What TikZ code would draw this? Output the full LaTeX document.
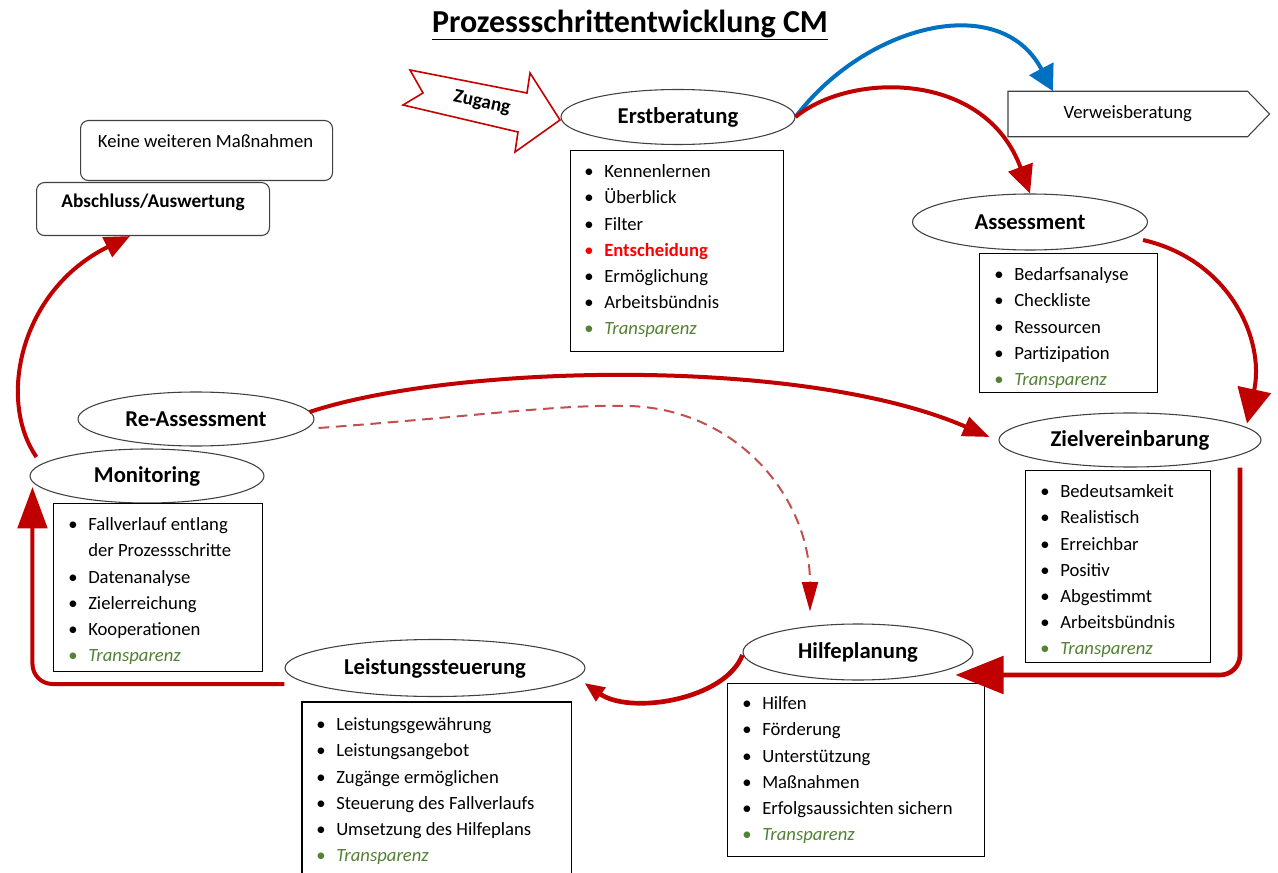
\documentclass[tikz,border=0pt]{standalone}
\usepackage{fontspec}
\setmainfont{Carlito}
\usetikzlibrary{shapes.geometric,arrows.meta,calc}
\definecolor{dred}{HTML}{C00000}
\definecolor{dblue}{HTML}{0070C0}
\definecolor{tgreen}{HTML}{538135}
\definecolor{lred}{HTML}{C0504D}
\definecolor{egray}{HTML}{404040}
\definecolor{brightred}{HTML}{FF0000}
\newcommand\itm[1]{\textbullet & #1\\}
\newcommand\gitm[1]{\textcolor{tgreen}{\textbullet} & \textcolor{tgreen}{\itshape #1}\\}
\newcommand\ritm[1]{\textcolor{brightred}{\textbullet} & \textcolor{brightred}{\bfseries #1}\\}
\newcommand\bodyfont{\fontsize{14}{19.65}\selectfont}
\newcommand\blist[1]{\bodyfont\begin{tabular}{@{}p{15pt}@{}l@{}}#1\end{tabular}}
\begin{document}
\begin{tikzpicture}[x=0.75pt,y=-0.75pt,
  ell/.style={ellipse, draw=egray, line width=0.8pt, fill=white, inner sep=0pt,
    font=\fontsize{17}{20}\selectfont\bfseries},
  sz/.style 2 args={minimum width=#1*0.75pt, minimum height=#2*0.75pt},
  lbox/.style={draw=black, line width=0.8pt, fill=white, inner sep=0pt, anchor=north west},
  rbox/.style={draw=egray, line width=0.8pt, fill=white, inner sep=0pt, anchor=north west, rounded corners=6pt},
  ltext/.style={anchor=north west, inner sep=0pt},
  flow/.style={draw=dred, line width=3pt},
  tip/.style 2 args={-{Triangle[length=#1pt,width=#2pt]}}
]
\useasboundingbox (0,0) rectangle (1278,873);

% title
\node[font=\fontsize{24}{28}\selectfont\bfseries] (title) at (630,25) {\underline{Prozessschrittentwicklung CM}};

% Zugang arrow
\draw[draw=dred!90!red, line width=1.2pt, fill=white, line join=miter]
  (410,70) -- (527,93) -- (530,73) -- (560,120) -- (515,152) -- (518,132) -- (403,105) -- (423,93) -- cycle;
\node[font=\fontsize{14.5}{17}\selectfont\bfseries, rotate=-12] (zg) at (482,103) {Zugang};

% top-left boxes
\node[rbox, sz={252}{60}] (kw) at (80,120) {};
\node[font=\bodyfont] (kwt) at ($(kw.north)+(-1,21)$) {Keine weiteren Maßnahmen};
\node[rbox, sz={233}{53}] (ab) at (36,182) {};
\node[font=\fontsize{14.5}{17}\selectfont\bfseries] (abt) at ($(ab.north)+(0,20)$) {Abschluss/Auswertung};

% Verweisberatung
\node[inner sep=0pt, sz={239}{45}, anchor=west, font=\bodyfont] (vb) at (1008,114) {Verweisberatung};
\draw[draw=egray, line width=0.8pt] (vb.north west) -- (vb.north east) -- ($(vb.east)+(22,0)$) -- (vb.south east) -- (vb.south west) -- cycle;

% ellipses
\node[ell, sz={234}{55}] (eb) at (678,117) {Erstberatung};
\node[ell, sz={235}{56}] (as) at (1030,222) {Assessment};
\node[ell, sz={262}{54}] (zv) at (1130,440) {Zielvereinbarung};
\node[ell, sz={230}{56}] (hp) at (858,652) {Hilfeplanung};
\node[ell, sz={300}{57}] (ls) at (435,668) {Leistungssteuerung};
\node[ell, sz={236}{54}] (ra) at (196,419) {Re-Assessment};
\node[ell, sz={234}{54}] (mo) at (147,476) {Monitoring};

% list boxes
\node[lbox, sz={213}{201}] (ebb) at (570,150) {};
\node[ltext] (ebt) at ($(ebb.north west)+(14,9)$) {\blist{\itm{Kennenlernen}\itm{Überblick}\itm{Filter}\ritm{Entscheidung}\itm{Ermöglichung}\itm{Arbeitsbündnis}\gitm{Transparenz}}};

\node[lbox, sz={178}{139}] (asb) at (979,253) {};
\node[ltext] (ast) at ($(asb.north west)+(15,9)$) {\blist{\itm{Bedarfsanalyse}\itm{Checkliste}\itm{Ressourcen}\itm{Partizipation}\gitm{Transparenz}}};

\node[lbox, sz={185}{192}] (zvb) at (1025,470) {};
\node[ltext] (zvt) at ($(zvb.north west)+(15,9)$) {\blist{\itm{Bedeutsamkeit}\itm{Realistisch}\itm{Erreichbar}\itm{Positiv}\itm{Abgestimmt}\itm{Arbeitsbündnis}\gitm{Transparenz}}};

\node[lbox, sz={257}{173}] (hpb) at (727,683) {};
\node[ltext] (hpt) at ($(hpb.north west)+(15,8)$) {\blist{\itm{Hilfen}\itm{Förderung}\itm{Unterstützung}\itm{Maßnahmen}\itm{Erfolgsaussichten sichern}\gitm{Transparenz}}};

\node[inner sep=0pt, anchor=north west, sz={269}{190}] (lsb) at (302,702) {};
\draw[black, line width=0.8pt] (lsb.south west) -- (lsb.north west) -- (lsb.north east) -- (lsb.south east);
\node[ltext] (lst) at ($(lsb.north west)+(14,10)$) {\blist{\itm{Leistungsgewährung}\itm{Leistungsangebot}\itm{Zugänge ermöglichen}\itm{Steuerung des Fallverlaufs}\itm{Umsetzung des Hilfeplans}\gitm{Transparenz}}};

\node[lbox, sz={209}{168}] (mob) at (53,503) {};
\node[ltext] (mot) at ($(mob.north west)+(15,9)$) {\blist{\itm{Fallverlauf entlang}& der Prozessschritte\\\itm{Datenanalyse}\itm{Zielerreichung}\itm{Kooperationen}\gitm{Transparenz}}};

% connectors
\draw[draw=dblue, line width=3pt, tip={19}{20}]
  (eb.east) .. controls (865,25) and (1000,-10) .. ($(vb.north west)+(45,0)$);
\draw[flow, tip={21}{19}]
  (eb.east) .. controls (850,72) and (985,70) .. (as.north);
\draw[flow, tip={26}{25}]
  ($(as.east)+(-5,18)$) .. controls (1230,260) and (1265,340) .. ($(zv.north)+(117,11)$);
\draw[flow, tip={20}{15}]
  ($(ra.east)+(-5,-7)$) .. controls (450,365) and (800,355) .. ($(zv.west)+(-9,-3)$);
\draw[draw=lred, line width=1.5pt, dash pattern=on 8pt off 5pt, -{Triangle[length=22pt,width=12pt,color=dred]}]
  ($(ra.east)+(4,9)$) .. controls (480,416) and (560,404) .. (630,406) .. controls (740,410) and (810,500) .. ($(hp.north)+(-48,-12)$);
\draw[flow, line width=3.5pt, rounded corners=15pt, tip={36}{28}]
  ($(zv.south)+(110,0)$) |- ($(hp.east)+(-18,23)$);
\draw[flow, line width=3.5pt, tip={15}{12}]
  ($(hp.west)+(0,3)$) .. controls (725,700) and (630,715) .. ($(ls.east)+(-1,15)$);
\draw[flow, rounded corners=15pt, tip={31}{22}]
  ($(ls.west)+(0,16)$) -| ($(mo.west)+(3,11)$);
\draw[flow, tip={19}{16}]
  ($(mo.west)+(7,-19)$) .. controls (-3,400) and (20,290) .. ($(ab.south west)+(94,0)$);
\end{tikzpicture}
\end{document}
